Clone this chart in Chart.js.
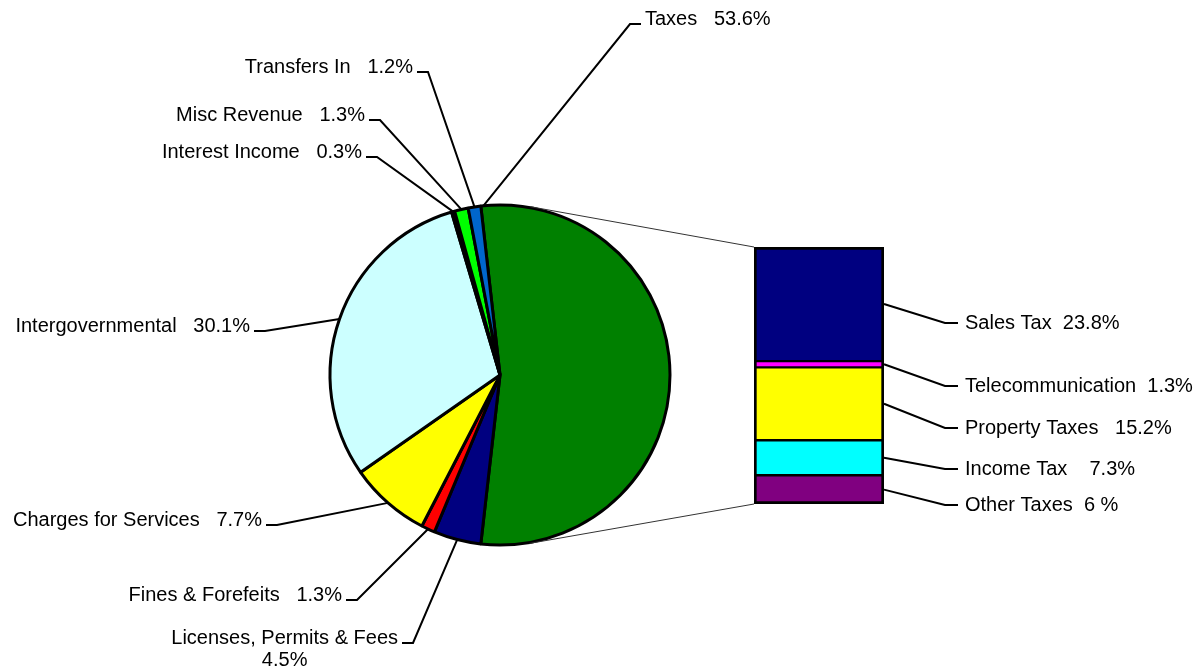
<!DOCTYPE html>
<html>
<head>
<meta charset="utf-8">
<title>Revenue Sources</title>
<script src="https://cdn.jsdelivr.net/npm/chart.js@4.4.0/dist/chart.umd.min.js"></script>
<style>
  html, body { margin: 0; padding: 0; background: #fff; }
  #wrap { position: relative; width: 1198px; height: 669px; }
  #wrap canvas { position: absolute; left: 0; top: 0; }
</style>
</head>
<body>
<div id="wrap">
  <canvas id="pieChart" width="1198" height="669"></canvas>
  <canvas id="taxChart" width="1198" height="669"></canvas>
</div>
<script>
// revenue sources, clockwise from the taxes slice
const sources = ['Taxes', 'Licenses, Permits & Fees', 'Fines & Forefeits', 'Charges for Services',
  'Intergovernmental', 'Interest Income', 'Misc Revenue', 'Transfers In'];
const sourceShares = [53.6, 4.5, 1.3, 7.7, 30.1, 0.3, 1.3, 1.2];
const sourceColors = ['#008000', '#000080', '#ff0000', '#ffff00', '#ccffff', '#000000', '#00ff00', '#0066cc'];

// breakdown of the taxes slice, top to bottom
const taxTypes = ['Sales Tax', 'Telecommunication', 'Property Taxes', 'Income Tax', 'Other Taxes'];
const taxShares = [23.8, 1.3, 15.2, 7.3, 6];
const taxColors = ['#000080', '#ff00ff', '#ffff00', '#00ffff', '#800080'];

// leader elbows for the pie labels
const sourceLabelPos = [
  { x: 630, y: 24, side: 'right' },
  { x: 413, y: 643, side: 'left', wrap: true },
  { x: 357, y: 600, side: 'left' },
  { x: 277, y: 525, side: 'left' },
  { x: 265, y: 331, side: 'left' },
  { x: 377, y: 157, side: 'left' },
  { x: 380, y: 120, side: 'left' },
  { x: 428, y: 72, side: 'left' }
];
const sourceGaps = [3, 0, 3, 3, 3, 3, 3, 3];
// leader elbows for the bar labels
const taxLabelX = 945;
const taxLabelY = [323, 386, 428, 469, 505];
const taxGaps = [2, 2, 3, 4, 2];

const FONT = '20px "Liberation Sans", Arial, sans-serif';
const TICK = 11;

const fmtPct = v => Number.isInteger(v) ? v + ' %' : v.toFixed(1) + '%';
const spaces = n => ' '.repeat(n);

const pieChart = new Chart(document.getElementById('pieChart'), {
  type: 'pie',
  data: {
    labels: sources,
    datasets: [{
      data: sourceShares,
      backgroundColor: sourceColors,
      borderColor: '#000',
      borderWidth: 3
    }]
  },
  options: {
    responsive: false,
    animation: false,
    events: [],
    radius: 170,
    // taxes slice centred on the right, facing the breakdown bar
    rotation: 90 - sourceShares[0] * 1.8,
    layout: { padding: { left: 330, right: 528, top: 205, bottom: 124 } },
    plugins: { legend: { display: false }, tooltip: { enabled: false } }
  }
});

function tangentPoint(cx, cy, r, px, py, upper) {
  const dx = px - cx, dy = py - cy;
  const base = Math.atan2(dy, dx);
  const off = Math.acos(r / Math.hypot(dx, dy));
  const a = upper ? base - off : base + off;
  return [cx + r * Math.cos(a), cy + r * Math.sin(a)];
}

const callouts = {
  id: 'callouts',
  afterDraw(chart) {
    const ctx = chart.ctx;
    const arcs = pieChart.getDatasetMeta(0).data;
    const cx = arcs[0].x, cy = arcs[0].y, r = arcs[0].outerRadius + 1;

    ctx.save();
    ctx.font = FONT;
    ctx.fillStyle = '#000';

    // thin connectors from the pie to the bar corners
    const topBar = chart.getDatasetMeta(0).data[0];
    const lowBar = chart.getDatasetMeta(taxTypes.length - 1).data[0];
    const barLeft = topBar.x - topBar.width / 2;
    const barRight = topBar.x + topBar.width / 2;
    const barTop = Math.min(topBar.y, topBar.base);
    const barBottom = Math.max(lowBar.y, lowBar.base);
    ctx.strokeStyle = '#333';
    ctx.lineWidth = 1;
    [[barTop, true], [barBottom, false]].forEach(([py, upper]) => {
      const [tx, ty] = tangentPoint(cx, cy, r, barLeft, py, upper);
      ctx.beginPath();
      ctx.moveTo(tx, ty);
      ctx.lineTo(barLeft, py);
      ctx.stroke();
    });

    ctx.strokeStyle = '#000';
    ctx.lineWidth = 2;

    // pie labels
    arcs.forEach((arc, i) => {
      const pos = sourceLabelPos[i];
      const a = i === 0 ? arc.startAngle + 0.015 : (arc.startAngle + arc.endAngle) / 2;
      const sx = arc.x + Math.cos(a) * arc.outerRadius;
      const sy = arc.y + Math.sin(a) * arc.outerRadius;
      const dir = pos.side === 'right' ? 1 : -1;
      const tickEnd = pos.x + dir * TICK;
      ctx.beginPath();
      ctx.moveTo(sx, sy);
      ctx.lineTo(pos.x, pos.y);
      ctx.lineTo(tickEnd, pos.y);
      ctx.stroke();

      ctx.textBaseline = 'alphabetic';
      const tx = tickEnd + dir * 4;
      if (pos.wrap) {
        const w = ctx.measureText(sources[i]).width;
        ctx.textAlign = 'center';
        ctx.fillText(sources[i], tx - w / 2, pos.y + 1);
        ctx.fillText(fmtPct(sourceShares[i]), tx - w / 2, pos.y + 23);
      } else {
        ctx.textAlign = dir > 0 ? 'left' : 'right';
        ctx.fillText(sources[i] + spaces(sourceGaps[i]) + fmtPct(sourceShares[i]), tx, pos.y + 1);
      }
    });

    // bar labels
    taxTypes.forEach((name, i) => {
      const el = chart.getDatasetMeta(i).data[0];
      const my = (el.y + el.base) / 2;
      const ly = taxLabelY[i];
      ctx.beginPath();
      ctx.moveTo(barRight, my);
      ctx.lineTo(taxLabelX, ly);
      ctx.lineTo(taxLabelX + 13, ly);
      ctx.stroke();
      ctx.textAlign = 'left';
      ctx.textBaseline = 'middle';
      ctx.fillText(name + spaces(taxGaps[i]) + fmtPct(taxShares[i]), taxLabelX + 20, ly);
    });
    ctx.restore();
  }
};

const last = taxTypes.length - 1;
const taxTotal = taxShares.reduce((s, v) => s + v, 0);

const taxChart = new Chart(document.getElementById('taxChart'), {
  type: 'bar',
  data: {
    labels: ['Taxes'],
    datasets: taxTypes.map((t, i) => ({
      label: t,
      data: [taxShares[i]],
      backgroundColor: taxColors[i],
      borderColor: '#000',
      borderWidth: { left: 3, right: 3, top: i === 0 ? 3 : 1.5, bottom: i === last ? 3 : 1.5 },
      borderSkipped: false,
      barPercentage: 1,
      categoryPercentage: 1
    }))
  },
  options: {
    responsive: false,
    animation: false,
    events: [],
    layout: { padding: { left: 754, right: 314, top: 247, bottom: 165 } },
    scales: {
      x: { display: false, stacked: true },
      y: { display: false, stacked: true, reverse: true, min: 0, max: taxTotal }
    },
    plugins: { legend: { display: false }, tooltip: { enabled: false } }
  },
  plugins: [callouts]
});
</script>
</body>
</html>
